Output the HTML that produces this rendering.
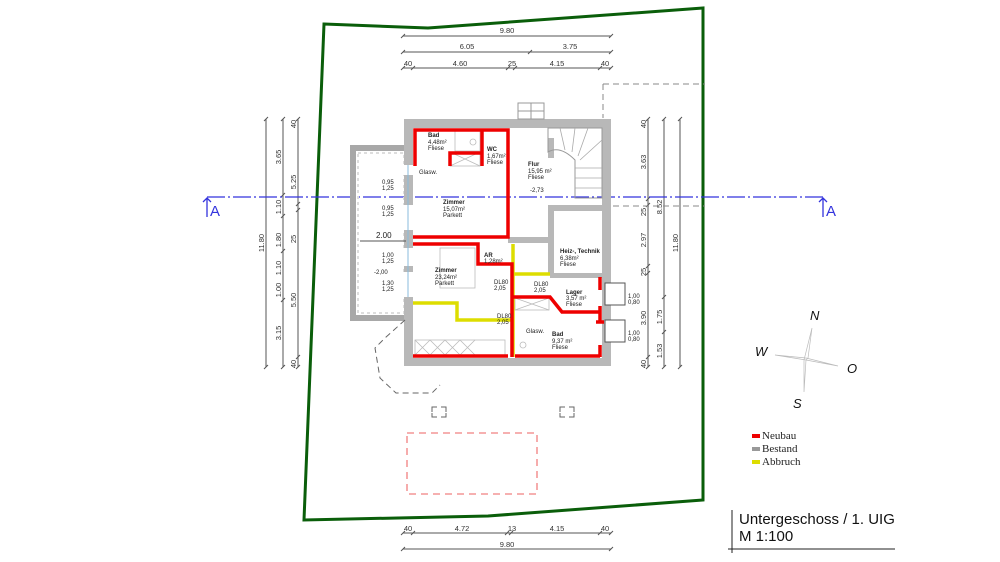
<!DOCTYPE html><html><head><meta charset="utf-8"><style>html,body{margin:0;padding:0;background:#fff}svg{display:block}text{font-family:"Liberation Sans",sans-serif}</style></head><body>
<svg width="1000" height="562" viewBox="0 0 1000 562" xmlns="http://www.w3.org/2000/svg">
<polygon points="324,24 428,28 703,8 703,500 488,516 304,520" fill="none" stroke="#0a5e0a" stroke-width="3"/>
<g stroke="#555" stroke-width="1" fill="none">
<line x1="403" y1="36" x2="611" y2="36"/><line x1="403" y1="52" x2="611" y2="52"/><line x1="403" y1="68" x2="611" y2="68"/>
<line x1="403" y1="533" x2="611" y2="533"/><line x1="403" y1="549" x2="611" y2="549"/>
<line x1="266" y1="119" x2="266" y2="367"/><line x1="283" y1="119" x2="283" y2="367"/><line x1="298" y1="119" x2="298" y2="367"/>
<line x1="648" y1="119" x2="648" y2="367"/><line x1="664" y1="119" x2="664" y2="367"/><line x1="680" y1="119" x2="680" y2="367"/>
<path d="M401,38l4,-4M401,54l4,-4M528,54l4,-4M609,38l4,-4M609,54l4,-4M401,70l4,-4M411,70l4,-4M506,70l4,-4M513,70l4,-4M598,70l4,-4M609,70l4,-4M401,535l4,-4M411,535l4,-4M505,535l4,-4M509,535l4,-4M598,535l4,-4M609,535l4,-4M401,551l4,-4M609,551l4,-4"/>
<path d="M264,121l4,-4M264,369l4,-4M281,121l4,-4M281,197l4,-4M281,218l4,-4M281,253l4,-4M281,302l4,-4M281,369l4,-4M296,121l4,-4M296,206l4,-4M296,212l4,-4M296,359l4,-4M296,369l4,-4"/>
<path d="M646,121l4,-4M646,201l4,-4M646,207l4,-4M646,268l4,-4M646,275l4,-4M646,359l4,-4M646,369l4,-4M662,121l4,-4M662,299l4,-4M662,334l4,-4M662,369l4,-4M678,121l4,-4M678,369l4,-4"/>
</g>
<g font-size="7.5" fill="#333" text-anchor="middle">
<text x="507" y="33">9.80</text><text x="467" y="49">6.05</text><text x="570" y="49">3.75</text>
<text x="408" y="66">40</text><text x="460" y="66">4.60</text><text x="512" y="66">25</text><text x="557" y="66">4.15</text><text x="605" y="66">40</text>
<text x="408" y="531">40</text><text x="462" y="531">4.72</text><text x="512" y="531">13</text><text x="557" y="531">4.15</text><text x="605" y="531">40</text>
<text x="507" y="547">9.80</text>
<g transform="rotate(-90)">
<text x="-243" y="264">11.80</text><text x="-157" y="281">3.65</text><text x="-207" y="281">1.10</text><text x="-240" y="281">1.80</text><text x="-268" y="281">1.10</text><text x="-290" y="281">1.00</text><text x="-333" y="281">3.15</text>
<text x="-124" y="296">40</text><text x="-182" y="296">5.25</text><text x="-239" y="296">25</text><text x="-300" y="296">5.50</text><text x="-364" y="296">40</text>
<text x="-124" y="646">40</text><text x="-162" y="646">3.63</text><text x="-212" y="646">25</text><text x="-240" y="646">2.97</text><text x="-272" y="646">25</text><text x="-318" y="646">3.90</text><text x="-364" y="646">40</text>
<text x="-207" y="662">8.52</text><text x="-317" y="662">1.75</text><text x="-351" y="662">1.53</text><text x="-243" y="678">11.80</text>
</g></g>
<line x1="207" y1="197" x2="823" y2="197" stroke="#3333dd" stroke-width="1.3" stroke-dasharray="18,3,2,3"/>
<line x1="603" y1="206" x2="705" y2="206" stroke="#888" stroke-dasharray="6,4"/>
<path d="M603,84H705M603,84V118" stroke="#888" fill="none" stroke-dasharray="6,4"/>
<path d="M207,217V198M203,202l4,-4 4,4M823,217V198M819,202l4,-4 4,4" stroke="#3333dd" fill="none" stroke-width="1.3"/>
<text x="210" y="216" font-size="15" fill="#3333dd">A</text><text x="826" y="216" font-size="15" fill="#3333dd">A</text>
<rect x="353" y="148" width="54" height="170" fill="none" stroke="#a8a8a8" stroke-width="6"/>
<rect x="358" y="153" width="46" height="160" fill="none" stroke="#ddd" stroke-width="2" stroke-dasharray="3,3"/>
<path d="M404,119H611V366H404Z M413,128V358H602V128Z" fill="#b8b8b8" fill-rule="evenodd"/>
<rect x="518" y="103" width="26" height="16" fill="#fff" stroke="#999"/>
<path d="M531,103V119M518,111H544" stroke="#999"/>
<rect x="401" y="165" width="14" height="10" fill="#fff"/><rect x="401" y="205" width="14" height="25" fill="#fff"/><rect x="401" y="248" width="14" height="18" fill="#fff"/><rect x="401" y="272" width="14" height="25" fill="#fff"/>
<line x1="408" y1="165" x2="408" y2="297" stroke="#8bd" stroke-width="1"/>
<g fill="#b8b8b8"><rect x="508" y="237" width="42" height="6"/><rect x="548" y="205" width="6" height="70"/><rect x="554" y="205" width="48" height="6"/><rect x="550" y="273" width="52" height="5"/><rect x="548" y="138" width="6" height="20"/></g>
<path d="M548,128H602V198H575V160Q560,145 548,152Z" fill="none" stroke="#999" stroke-width="1"/>
<g stroke="#aaa" stroke-width="0.8"><line x1="575" y1="168" x2="602" y2="168"/><line x1="575" y1="178" x2="602" y2="178"/><line x1="575" y1="188" x2="602" y2="188"/><line x1="560" y1="128" x2="565" y2="150"/><line x1="575" y1="128" x2="572" y2="152"/><line x1="588" y1="128" x2="578" y2="156"/><line x1="602" y1="140" x2="580" y2="160"/></g>
<rect x="605" y="283" width="20" height="22" fill="#fff" stroke="#555"/><rect x="605" y="320" width="20" height="22" fill="#fff" stroke="#555"/>
<g stroke="#bbb" fill="none" stroke-width="0.8"><rect x="450" y="152" width="30" height="14"/><path d="M450,152L480,166M480,152L450,166"/><rect x="515" y="298" width="34" height="12"/><path d="M515,298L549,310M549,298L515,310"/><rect x="415" y="340" width="90" height="15"/><path d="M415,340l15,15m0,-15l-15,15m15,-15l15,15m0,-15l-15,15m15,-15l15,15m0,-15l-15,15m15,-15l15,15m0,-15l-15,15"/><rect x="455" y="129" width="25" height="22"/><circle cx="473" cy="142" r="3"/><circle cx="523" cy="345" r="3"/><rect x="440" y="248" width="35" height="40"/></g>
<g stroke="#dddd00" stroke-width="3.5" fill="none"><path d="M513,244V357"/><path d="M513,274H550"/><path d="M413,303H457V320H512"/></g>
<g stroke="#ee0000" stroke-width="3.5" fill="none">
<path d="M415,166V130H508V237H413"/><path d="M482,130V166"/><path d="M450,166V153H482"/>
<path d="M413,244H478V264H512V357"/><path d="M513,297H550L562,312H600"/>
<path d="M600,277V290M600,306V322M600,345V357M596,322H604"/>
<path d="M413,356H508M515,356H600"/></g>
<g font-size="6" fill="#222">
<text x="428" y="137" font-weight="bold">Bad</text><text x="428" y="144">4,48m²</text><text x="428" y="150">Fliese</text>
<text x="487" y="151" font-weight="bold">WC</text><text x="487" y="158">1,67m²</text><text x="487" y="164">Fliese</text>
<text x="528" y="166" font-weight="bold">Flur</text><text x="528" y="173">15,95 m²</text><text x="528" y="179">Fliese</text><text x="530" y="192">-2,73</text>
<text x="443" y="204" font-weight="bold">Zimmer</text><text x="443" y="211">15,07m²</text><text x="443" y="217">Parkett</text>
<text x="419" y="174">Glasw.</text>
<text x="435" y="272" font-weight="bold">Zimmer</text><text x="435" y="279">23,24m²</text><text x="435" y="285">Parkett</text>
<text x="484" y="257" font-weight="bold">AR</text><text x="484" y="263">1,28m²</text>
<text x="560" y="253" font-weight="bold">Heiz-, Technik</text><text x="560" y="260">6,38m²</text><text x="560" y="266">Fliese</text>
<text x="566" y="294" font-weight="bold">Lager</text><text x="566" y="300">3,57 m²</text><text x="566" y="306">Fliese</text>
<text x="552" y="336" font-weight="bold">Bad</text><text x="552" y="343">9,37 m²</text><text x="552" y="349">Fliese</text>
<text x="526" y="333">Glasw.</text>
<text x="494" y="284">DL80</text><text x="494" y="290">2,05</text><text x="534" y="286">DL80</text><text x="534" y="292">2,05</text><text x="497" y="318">DL80</text><text x="497" y="324">2,05</text>
<text x="382" y="184">0,95</text><text x="382" y="190">1,25</text><text x="382" y="210">0,95</text><text x="382" y="216">1,25</text>
<text x="382" y="257">1,00</text><text x="382" y="263">1,25</text><text x="382" y="285">1,30</text><text x="382" y="291">1,25</text><text x="374" y="274">-2,00</text>
<text x="628" y="298">1,00</text><text x="628" y="304">0,80</text><text x="628" y="335">1,00</text><text x="628" y="341">0,80</text>
</g>
<text x="376" y="238" font-size="8" fill="#222">2.00</text>
<line x1="360" y1="241" x2="406" y2="241" stroke="#555"/>
<path d="M405,320L385,338 375,348 380,378 396,393 432,393 440,385" fill="none" stroke="#666" stroke-dasharray="6,4"/>
<path d="M432,412V407H437M441,407H446V412M432,413V417H437M441,417H446V413M560,412V407H565M569,407H574V412M560,413V417H565M569,417H574V413" stroke="#666" fill="none"/>
<rect x="407" y="433" width="130" height="61" fill="none" stroke="#f08080" stroke-dasharray="7,5" stroke-width="1.3"/>
<g stroke="#bbb" fill="none" stroke-width="0.7"><path d="M812,328L808,358 806,360 804,392M775,355L806,360 838,366M812,328L804,360 804,392M775,355L806,358 838,366"/></g>
<g font-size="13" font-style="italic" fill="#111"><text x="810" y="320">N</text><text x="755" y="356">W</text><text x="847" y="373">O</text><text x="793" y="408">S</text></g>
<rect x="752" y="434" width="8" height="4" fill="#ee0000"/><rect x="752" y="447" width="8" height="4" fill="#999"/><rect x="752" y="460" width="8" height="4" fill="#dddd00"/>
<g font-size="11" fill="#222"><text x="762" y="439" style="font-family:'Liberation Serif',serif">Neubau</text><text x="762" y="452" style="font-family:'Liberation Serif',serif">Bestand</text><text x="762" y="465" style="font-family:'Liberation Serif',serif">Abbruch</text></g>
<path d="M732,510V553M728,549H895" stroke="#222" fill="none"/>
<text x="739" y="524" font-size="15" fill="#111">Untergeschoss / 1. UIG</text>
<text x="739" y="541" font-size="15" fill="#111">M 1:100</text>
</svg></body></html>
